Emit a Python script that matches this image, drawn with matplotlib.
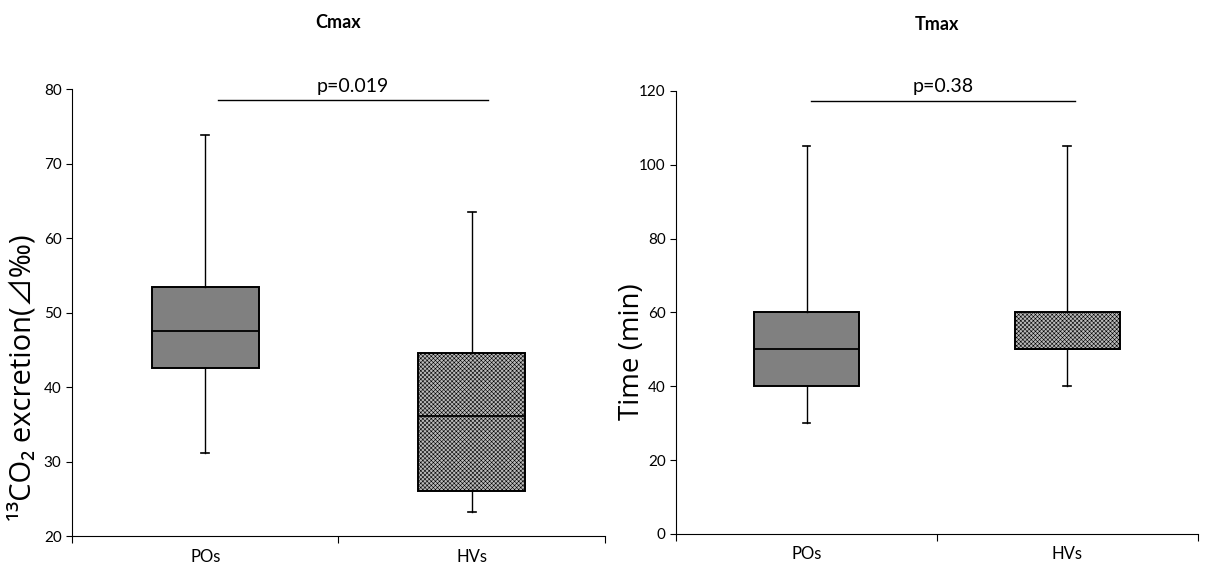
import matplotlib
matplotlib.use("Agg")
import matplotlib.pyplot as plt

plt.rcParams['font.family'] = ['Lato', 'Noto Sans CJK JP', 'DejaVu Sans']
plt.rcParams['hatch.linewidth'] = 0.4

groups = ["POs", "HVs"]

# Cmax stats: whislo, q1, med, q3, whishi
cmax_whislo = [31.2, 23.2]
cmax_q1 = [42.6, 26.1]
cmax_med = [47.6, 36.1]
cmax_q3 = [53.4, 44.6]
cmax_whishi = [73.9, 63.5]

# Tmax stats
tmax_whislo = [30, 40]
tmax_q1 = [40, 50]
tmax_med = [50, 50]
tmax_q3 = [60, 60]
tmax_whishi = [105, 105]

cmax_p = "p=0.019"
tmax_p = "p=0.38"

fig = plt.figure(figsize=(12.16, 5.74), dpi=100)
ax1 = fig.add_axes([0.0592, 0.0662, 0.4383, 0.7782])
ax2 = fig.add_axes([0.556, 0.0697, 0.429, 0.7718])

label_family = ['Open Sans', 'Noto Sans CJK JP', 'DejaVu Sans']


def draw(ax, lo, q1, med, q3, hi, ylim, yticks, title, ylabel, ptxt, pline_y, px,
         ylabel_size, label_xy):
    stats = []
    for i in range(len(groups)):
        stats.append(dict(whislo=lo[i], q1=q1[i], med=med[i], q3=q3[i],
                          whishi=hi[i], label=groups[i]))
    bp = ax.bxp(stats, positions=[0.5, 1.5], widths=0.4, capwidths=0.03,
                showfliers=False, patch_artist=True, manage_ticks=False,
                boxprops=dict(linewidth=1.4, edgecolor='black'),
                medianprops=dict(color='black', linewidth=1.3),
                whiskerprops=dict(color='black', linewidth=1.0),
                capprops=dict(color='black', linewidth=1.2))
    bp['boxes'][0].set_facecolor('#808080')
    bp['boxes'][1].set_facecolor('#bababa')
    bp['boxes'][1].set_hatch('xxxxxxxx')
    bp['boxes'][1].set_edgecolor('black')
    ax.set_xlim(0, 2)
    ax.set_ylim(*ylim)
    ax.set_yticks(yticks)
    ax.set_xticks([0, 1, 2])
    ax.set_xticklabels([])
    ax.set_xticks([0.5, 1.5], minor=True)
    ax.set_xticklabels(groups, minor=True, fontsize=12)
    ax.tick_params(axis='x', which='minor', length=0, pad=9)
    ax.tick_params(axis='x', which='major', length=5, direction='out')
    ax.tick_params(axis='y', length=4, direction='out', labelsize=11)
    for s in ['top', 'right']:
        ax.spines[s].set_visible(False)
    ax.set_title(title, fontsize=13, fontweight='bold', pad=44)
    ax.set_ylabel(ylabel, fontsize=ylabel_size, family=label_family)
    ax.yaxis.set_label_coords(*label_xy)
    ax.plot([px[0], px[1]], [pline_y, pline_y], color='black', lw=1.0, clip_on=False)
    ax.annotate(ptxt, xy=((px[0] + px[1]) / 2, pline_y), xytext=(0, 4),
                textcoords='offset points', ha='center', va='bottom', fontsize=14)


draw(ax1, cmax_whislo, cmax_q1, cmax_med, cmax_q3, cmax_whishi,
     (20, 80), [20, 30, 40, 50, 60, 70, 80], "Cmax",
     "¹³CO₂ excretion(⊿‰)", cmax_p, 78.5, (0.548, 1.56), 21, (-0.064, 0.355))
draw(ax2, tmax_whislo, tmax_q1, tmax_med, tmax_q3, tmax_whishi,
     (0, 120), [0, 20, 40, 60, 80, 100, 120], "Tmax",
     "Time (min)", tmax_p, 117.3, (0.517, 1.53), 20, (-0.057, 0.411))

fig.savefig("out.png", dpi=100)
